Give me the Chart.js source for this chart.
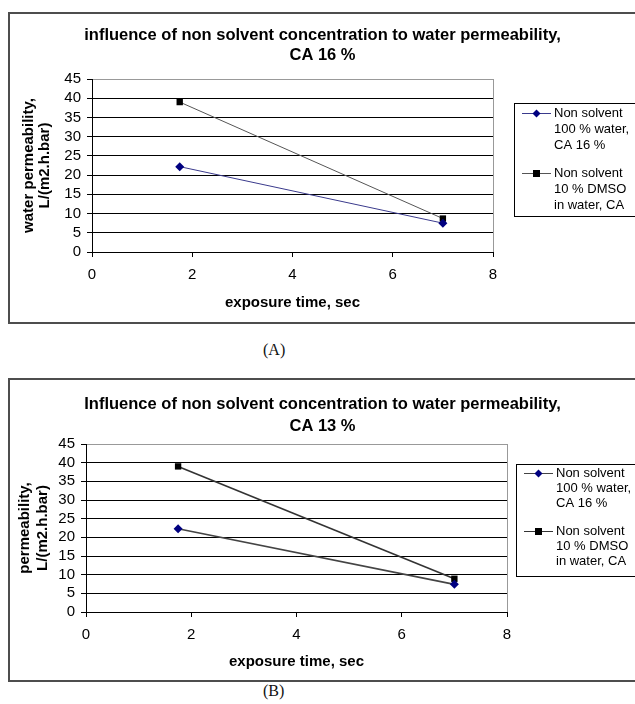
<!DOCTYPE html>
<html>
<head>
<meta charset="utf-8">
<script src="https://cdn.jsdelivr.net/npm/chart.js@4/dist/chart.umd.min.js"></script>
<style>
  html, body { margin: 0; padding: 0; background: #fff; }
  body { width: 635px; height: 704px; position: relative; overflow: hidden; }
  .frame { position: absolute; border: 2px solid #4d4d4d; box-sizing: border-box; }
  canvas { position: absolute; }
  .caption { position: absolute; font-family: "Liberation Serif", "DejaVu Serif", serif; font-size: 16px; color: #111; }
</style>
</head>
<body>
<div class="frame" style="left:8px; top:12px; width:640px; height:312px"></div>
<canvas id="chartA" width="625" height="308" style="left:10px; top:14px"></canvas>
<div class="caption" style="left:263px; top:341px">(A)</div>

<div class="frame" style="left:8px; top:378px; width:640px; height:304px"></div>
<canvas id="chartB" width="625" height="300" style="left:10px; top:380px"></canvas>
<div class="caption" style="left:263px; top:682px">(B)</div>

<script>
// exposure time, sec
const exposureTime = [1.75, 7]

// chart A, CA 16 %
const waterA = [22.2, 7.5]
const dmsoA = [39, 8.7]

// chart B, CA 13 %
const waterB = [22.3, 7.4]
const dmsoB = [39, 8.9]

const legendWater = ["Non solvent", "100 % water,", "CA 16 %"]
const legendDmso = ["Non solvent", "10 % DMSO", "in water, CA"]

const titleA = ["influence of non solvent concentration to water permeability,", "CA 16 %"]
const titleB = ["Influence of non solvent concentration to water permeability,", "CA 13 %"]
const yTitleA = ["water permeability,", "L/(m2.h.bar)"]
const yTitleB = ["permeability,", "L/(m2.h.bar)"]
const xTitle = "exposure time, sec"

const FONT = "'Liberation Sans', Arial, sans-serif"
Chart.defaults.color = "#000"
Chart.defaults.font.family = FONT

const points = (ys) => exposureTime.map((x, i) => ({ x: x, y: ys[i] }))

// plot area border (gray right edge) like the spreadsheet look
const plotBorder = {
  id: "plotBorder",
  beforeDatasetsDraw(chart) {
    const { ctx, chartArea: a } = chart
    ctx.save()
    ctx.strokeStyle = "#999"
    ctx.lineWidth = 1
    ctx.beginPath()
    ctx.moveTo(Math.round(a.right) + 0.5, a.top)
    ctx.lineTo(Math.round(a.right) + 0.5, a.bottom)
    ctx.stroke()
    ctx.restore()
  }
}

// boxed legend on the right, multi-line labels
const boxLegend = {
  id: "boxLegend",
  afterDraw(chart, args, opts) {
    const { ctx, chartArea: a } = chart
    const x = a.right + opts.gap
    const y = opts.top
    ctx.save()
    ctx.fillStyle = "#fff"
    ctx.fillRect(x, y, 200, opts.height)
    ctx.strokeStyle = "#000"
    ctx.lineWidth = 1
    ctx.strokeRect(x + 0.5, y + 0.5, 200, opts.height)
    ctx.font = "13px " + FONT
    ctx.textBaseline = "middle"
    let ty = y + opts.first
    chart.data.datasets.forEach((ds) => {
      const lx = x + 8
      const cy = Math.round(ty) + 0.5
      ctx.strokeStyle = ds.borderColor
      ctx.lineWidth = 1
      ctx.beginPath()
      ctx.moveTo(lx, cy)
      ctx.lineTo(lx + 29, cy)
      ctx.stroke()
      ctx.fillStyle = ds.pointBackgroundColor
      const cx = lx + 14.5
      if (ds.pointStyle === "rect") {
        ctx.fillRect(cx - 3.5, cy - 3.5, 7, 7)
      } else {
        ctx.beginPath()
        ctx.moveTo(cx, cy - 4); ctx.lineTo(cx + 4, cy); ctx.lineTo(cx, cy + 4); ctx.lineTo(cx - 4, cy)
        ctx.closePath()
        ctx.fill()
      }
      ctx.fillStyle = "#000"
      ds.legendLines.forEach((line, j) => {
        ctx.fillText(line, lx + 32, ty + j * opts.lineHeight)
      })
      ty += (ds.legendLines.length - 1) * opts.lineHeight + opts.entryGap
    })
    ctx.restore()
  }
}

function makeChart(id, cfg) {
  return new Chart(document.getElementById(id), {
    type: "scatter",
    data: {
      datasets: [
        {
          label: legendWater.join(" "),
          legendLines: legendWater,
          data: points(cfg.water),
          showLine: true,
          borderColor: cfg.waterLine,
          borderWidth: cfg.lineWidth,
          pointStyle: "rectRot",
          pointRadius: 4.5,
          pointBackgroundColor: "#000080",
          pointBorderColor: "#000080",
          pointBorderWidth: 0
        },
        {
          label: legendDmso.join(" "),
          legendLines: legendDmso,
          data: points(cfg.dmso),
          showLine: true,
          borderColor: cfg.dmsoLine,
          borderWidth: cfg.lineWidth,
          pointStyle: "rect",
          pointRadius: 4.5,
          pointBackgroundColor: "#000",
          pointBorderColor: "#000",
          pointBorderWidth: 0
        }
      ]
    },
    options: {
      responsive: false,
      animation: false,
      layout: { padding: 0 },
      plugins: {
        legend: { display: false },
        tooltip: { enabled: false },
        title: {
          display: true,
          text: cfg.title,
          color: "#000",
          font: { size: 16.5, weight: "bold", lineHeight: cfg.titleLine + "px" },
          padding: { top: cfg.titleTop, bottom: cfg.titleBottom }
        },
        boxLegend: cfg.legend
      },
      scales: {
        x: {
          type: "linear",
          min: 0,
          max: 8,
          afterFit: (s) => { s.height = cfg.xHeight },
          ticks: { stepSize: 2, padding: 9, autoSkip: false, font: { size: 15 }, color: "#000" },
          grid: { drawOnChartArea: false, drawTicks: true, tickLength: 5, color: "#000" },
          border: { display: true, color: "#000", width: 1 },
          title: {
            display: true,
            text: xTitle,
            color: "#000",
            font: { size: 15, weight: "bold", lineHeight: 1.2 },
            padding: { top: 0, bottom: cfg.xTitlePad }
          }
        },
        y: {
          type: "linear",
          min: 0,
          max: 45,
          afterFit: (s) => { s.width = cfg.yWidth },
          ticks: { stepSize: 5, padding: 6, autoSkip: false, font: { size: 15, lineHeight: 1 }, color: "#000" },
          grid: {
            drawTicks: true,
            tickLength: 5,
            color: (c) => (c.tick && c.tick.value === 45 ? "#999" : "#000"),
            tickColor: "#000",
            lineWidth: 1
          },
          border: { display: true, color: "#000", width: 1 },
          title: {
            display: true,
            text: cfg.yTitle,
            color: "#000",
            font: { size: 15, weight: "bold", lineHeight: cfg.yTitleLine + "px" },
            padding: { top: cfg.yTitlePad, bottom: 0 }
          }
        },
        // empty right-hand axis: only reserves room for the legend box
        legendRoom: {
          type: "linear",
          position: "right",
          min: 0,
          max: 45,
          afterFit: (s) => { s.width = cfg.padRight },
          ticks: { display: false },
          grid: { display: false, drawOnChartArea: false },
          border: { display: false }
        }
      }
    },
    plugins: [plotBorder, boxLegend]
  })
}

makeChart("chartA", {
  water: waterA,
  dmso: dmsoA,
  waterLine: "#3a3a8c",
  dmsoLine: "#555",
  lineWidth: 1,
  title: titleA,
  titleLine: 20,
  titleTop: 11,
  titleBottom: 14,
  yTitle: yTitleA,
  yTitleLine: 16,
  yTitlePad: 11,
  yWidth: 82,
  xHeight: 70,
  xTitlePad: 10,
  padRight: 142,
  legend: { gap: 21, top: 89, height: 113, first: 10, lineHeight: 16, entryGap: 28 }
})

makeChart("chartB", {
  water: waterB,
  dmso: dmsoB,
  waterLine: "#444",
  dmsoLine: "#333",
  lineWidth: 1.6,
  title: titleB,
  titleLine: 22,
  titleTop: 13,
  titleBottom: 7,
  yTitle: yTitleB,
  yTitleLine: 18,
  yTitlePad: 6,
  yWidth: 76,
  xHeight: 68,
  xTitlePad: 9,
  padRight: 128,
  legend: { gap: 9, top: 84, height: 112, first: 9, lineHeight: 15, entryGap: 28 }
})
</script>
</body>
</html>
